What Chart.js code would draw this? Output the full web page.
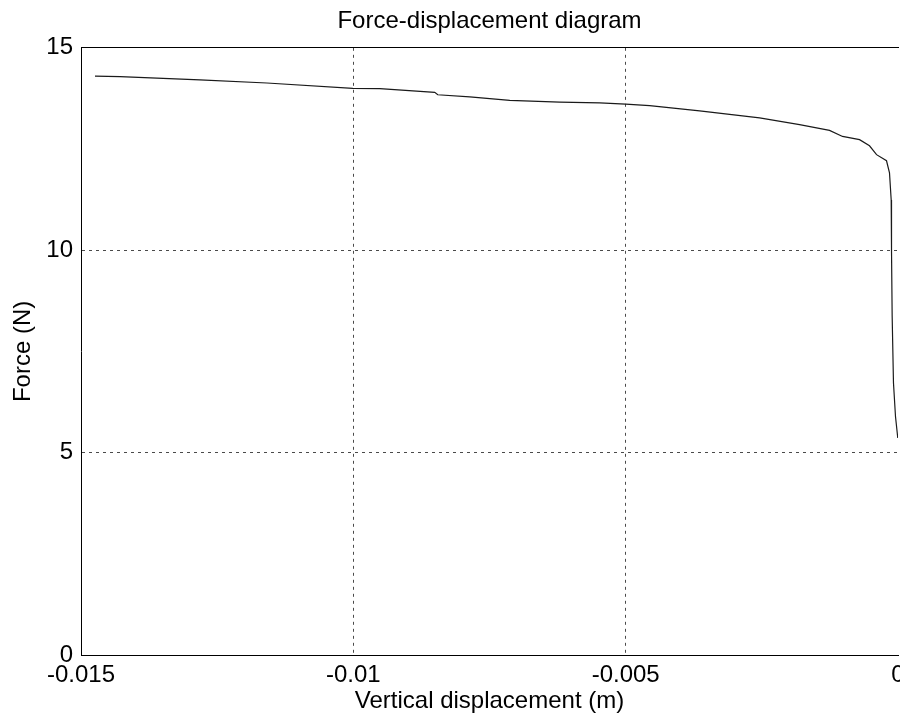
<!DOCTYPE html>
<html>
<head>
<meta charset="utf-8">
<script src="https://cdn.jsdelivr.net/npm/chart.js@4/dist/chart.umd.min.js"></script>
<style>
  html, body { margin: 0; padding: 0; background: #fff; overflow: hidden; }
  #wrap { width: 900px; height: 721px; overflow: hidden; position: relative; }
  canvas { display: block; }
</style>
</head>
<body>
<div id="wrap"><canvas id="c" width="940" height="721" style="width:940px;height:721px"></canvas></div>
<script>
// ---- data ----
const displacement = [
  -0.014743, -0.014284, -0.012817, -0.011587, -0.010009, -0.009514, -0.008505, -0.008450,
  -0.007862, -0.007128, -0.006211, -0.005477, -0.005000, -0.004560, -0.003642, -0.002541,
  -0.001807, -0.001257, -0.001018, -0.000706, -0.000523, -0.000394, -0.000211, -0.000156,
  -0.000125, -0.000119, -0.000107, -0.000083, -0.000046, -0.000004
];
const force = [
  14.30, 14.29, 14.21, 14.13, 14.00, 13.99, 13.90, 13.84,
  13.79, 13.70, 13.66, 13.64, 13.61, 13.57, 13.44, 13.27,
  13.10, 12.96, 12.81, 12.73, 12.58, 12.36, 12.21, 11.91,
  11.24, 9.97, 8.36, 6.72, 5.89, 5.36
];
const xTickValues = [-0.015, -0.01, -0.005, 0];
const xTickLabels = ['-0.015', '-0.01', '-0.005', '0'];
const yTickValues = [0, 5, 10, 15];
const yTickLabels = ['0', '5', '10', '15'];
const chartTitle = 'Force-displacement diagram';
const xTitle = 'Vertical displacement (m)';
const yTitle = 'Force (N)';

const FONT = { family: '"Liberation Sans", Arial, Helvetica, sans-serif', size: 24 };
const points = displacement.map((x, i) => ({ x: x, y: force[i] }));

new Chart(document.getElementById('c'), {
  type: 'scatter',
  data: {
    datasets: [{
      data: points,
      showLine: true,
      borderColor: '#1a1a1a',
      borderWidth: 1.2,
      pointRadius: 0,
      pointHoverRadius: 0,
      tension: 0,
      fill: false
    }]
  },
  options: {
    responsive: false,
    animation: false,
    devicePixelRatio: 1,
    layout: { padding: { left: 0, top: 0, right: 42, bottom: 0 } },
    plugins: {
      legend: { display: false },
      tooltip: { enabled: false },
      title: {
        display: true,
        text: chartTitle,
        color: '#000',
        fullSize: false,
        font: { family: FONT.family, size: 24, weight: 'normal' },
        padding: { top: 7, bottom: 12 }
      }
    },
    scales: {
      x: {
        type: 'linear',
        position: 'bottom',
        min: -0.015,
        max: 0,
        afterBuildTicks: (s) => { s.ticks = xTickValues.map(v => ({ value: v })); },
        afterFit: (s) => { s.height = 66; },
        ticks: {
          color: '#000',
          font: FONT,
          padding: 6,
          maxRotation: 0,
          autoSkip: false,
          callback: (v, i) => xTickLabels[i]
        },
        grid: {
          drawTicks: false,
          lineWidth: 1,
          color: (ctx) => (ctx.tick && (ctx.tick.value === -0.015 || ctx.tick.value === 0)) ? 'rgba(0,0,0,0)' : '#4a4a4a'
        },
        border: { display: true, color: '#000', width: 1, dash: [3, 4] },
        title: {
          display: true, text: xTitle, color: '#000', font: FONT,
          padding: { top: 0, bottom: 5 }
        }
      },
      xTop: {
        type: 'linear',
        position: 'top',
        min: -0.015,
        max: 0,
        afterFit: (s) => { s.height = 0; },
        ticks: { display: false },
        grid: { display: false, drawTicks: false },
        border: { display: true, color: '#000', width: 1 }
      },
      y: {
        type: 'linear',
        position: 'left',
        min: 0,
        max: 15,
        afterBuildTicks: (s) => { s.ticks = yTickValues.map(v => ({ value: v })); },
        afterFit: (s) => { s.width = 81; },
        ticks: {
          color: '#000',
          font: FONT,
          padding: 8,
          autoSkip: false,
          callback: (v, i) => yTickLabels[i]
        },
        grid: {
          drawTicks: false,
          lineWidth: 1,
          color: (ctx) => (ctx.tick && (ctx.tick.value === 0 || ctx.tick.value === 15)) ? 'rgba(0,0,0,0)' : '#4a4a4a'
        },
        border: { display: true, color: '#000', width: 1, dash: [3, 4] },
        title: {
          display: true, text: yTitle, color: '#000', font: FONT,
          padding: { top: 9, bottom: 0 }
        }
      }
    }
  }
});
</script>
</body>
</html>
